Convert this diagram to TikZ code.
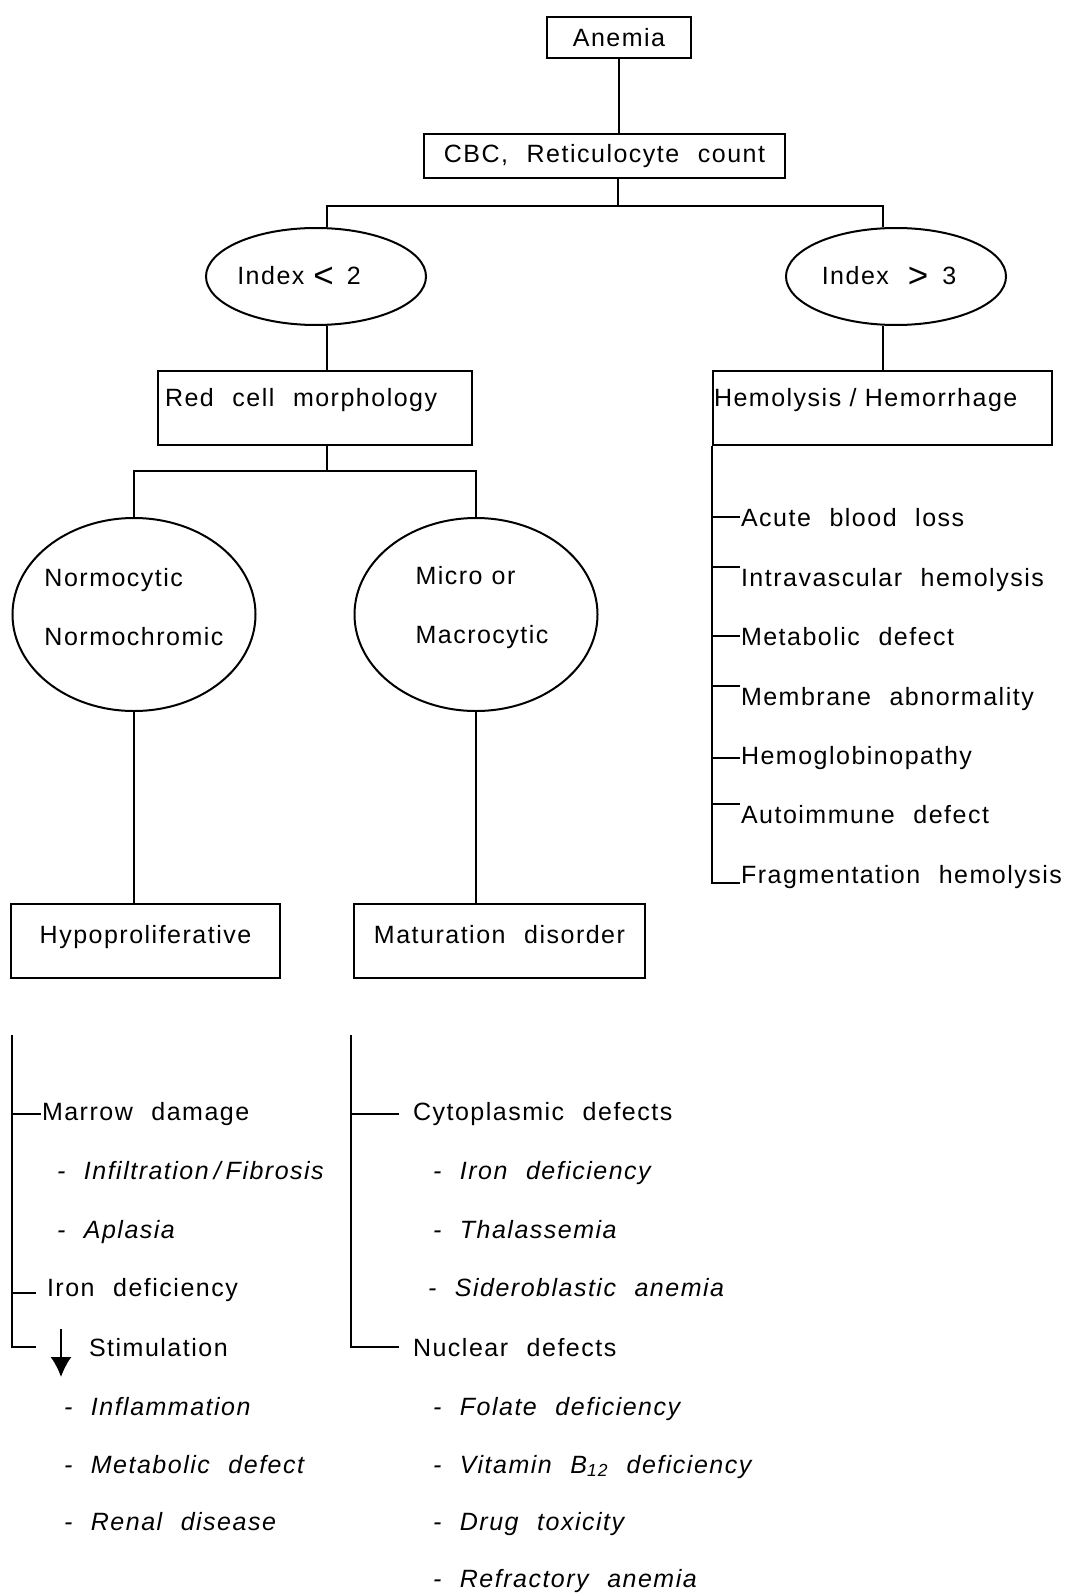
\documentclass[tikz,border=0pt]{standalone}
\usepackage{fontspec}
\setmainfont{Liberation Sans}[LetterSpace=6,WordSpace=2.2]
\usetikzlibrary{shapes.geometric,arrows.meta}
\def\chartfont{\fontsize{25}{30}\selectfont}
\def\bigsign#1{\raisebox{-3pt}{\fontsize{35}{35}\selectfont#1}}
\tikzset{
	box/.style={draw, rectangle, inner sep=0pt},
	oval/.style={draw, ellipse, inner sep=0pt, minimum width=220pt, minimum height=97pt},
	bigoval/.style={draw, ellipse, inner sep=0pt, minimum width=243pt, minimum height=193pt},
	item/.style={anchor=base west, inner sep=0pt},
	sub/.style={item, font=\chartfont\itshape},
}

\begin{document}
\begin{tikzpicture}[x=1pt, y=-1pt, font=\chartfont, line width=2pt]
		%%%%% START %%%%%
		\useasboundingbox (0,0) rectangle (1066,1594);
		
		\node[box, minimum width=144pt, minimum height=41pt] (anemia) at (619,37.5) {Anemia};
		\node[box, minimum width=361pt, minimum height=44pt] (cbc) at (604.5,156) {CBC, Reticulocyte count};
		\coordinate (split1) at (618,206);
		
		\node[oval, label={[xshift=-17pt, font=\chartfont]center:Index\hspace{9pt}\bigsign{<}\hspace{13pt}2}] (lowidx) at (316,276.5) {};
		\node[oval, label={[xshift=-7pt, font=\chartfont]center:Index\hspace{19pt}\bigsign{>}\hspace{14pt}3}] (highidx) at (896,276.5) {};
		
		\node[box, minimum width=314pt, text width=300pt, text height=35pt, text depth=39pt, inner xsep=7pt, align=left] (redcell) at (315,408) {\spaceskip=0pt Red cell morphology};
		\node[box, minimum width=339pt, text width=337pt, text height=35pt, text depth=39pt, inner xsep=1pt, align=left] (hemo) at (882.5,408) {Hemolysis / Hemorrhage};
		\coordinate (split2) at (327,471);
		
		\node[bigoval, label={[yshift=7pt, align=left, font=\chartfont]center:Normocytic\\[29pt]Normochromic}] (normo) at (134,614.5) {};
		\node[bigoval, label={[xshift=6pt, yshift=7pt, align=left, font=\chartfont]center:Micro\hspace{9pt}or\\[29pt]Macrocytic}] (micro) at (476,614.5) {};
		
		\node[box, minimum width=269pt, text height=39pt, text depth=35pt] (hypo) at (145.5,941) {Hypoproliferative};
		\node[box, minimum width=291pt, text height=39pt, text depth=35pt] (mat) at (499.5,941) {Maturation disorder};
		
		\draw (anemia.south) -- (anemia.south |- cbc.north);
		\draw (split1 |- cbc.south) -- (split1);
		\draw ([xshift=11pt]lowidx.north) |- (split1) -| ([xshift=-13pt]highidx.north);
		\draw ([xshift=11pt]lowidx.south) -- ([xshift=11pt]lowidx.south |- redcell.north);
		\draw ([xshift=-13pt]highidx.south) -- ([xshift=-13pt]highidx.south |- hemo.north);
		\draw (split2 |- redcell.south) -- (split2);
		\draw (normo.north) |- (split2) -| (micro.north);
		\draw (normo.south) -- (normo.south |- hypo.north);
		\draw (micro.south) -- (micro.south |- mat.north);
		
		% hemolysis / hemorrhage list
		\node[item] (acute) at (740,526) {Acute blood loss};
		\node[item] (intra) at (740,586) {Intravascular hemolysis};
		\node[item] (metab) at (740,645) {Metabolic defect};
		\node[item] (membr) at (740,705) {Membrane abnormality};
		\node[item] (hbpath) at (740,764) {Hemoglobinopathy};
		\node[item] (autoim) at (740,823) {Autoimmune defect};
		\node[item] (frag) at (740,883) {Fragmentation hemolysis};
		\draw (hemo.south west) |- (frag.base west);
		\foreach \n/\a in {acute/west, intra/north west, metab/west, membr/north west, hbpath/west, autoim/north west}
			\draw (hemo.south west |- \n.\a) -- (\n.\a);
		
		% hypoproliferative list
		\coordinate (ltop) at (12,1035);
		\node[item] (marrow) at (41,1120) {Marrow damage};
		\node[sub] (infil) at (56,1179) {- Infiltration\hspace{5pt}/\hspace{5pt}Fibrosis};
		\node[sub] (aplas) at (56,1238) {- Aplasia};
		\node[item] (ironl) at (46,1296) {Iron deficiency};
		\node[item] (stim) at (88,1356) {Stimulation};
		\node[sub] (inflam) at (63,1415) {- Inflammation};
		\node[sub] (metabl) at (63,1473) {- Metabolic defect};
		\node[sub] (renal) at (63,1530) {- Renal disease};
		\draw (ltop) |- ([xshift=-52pt]stim.west);
		\draw (ltop |- marrow.west) -- (marrow.west);
		\draw (ltop |- ironl.base west) ++(0,-3) -- ++(24,0);
		\coordinate (arrtop) at (61,1329);
		\draw[-{Latex[length=20pt,width=21pt]}] (arrtop) -- ++(0,48);
		
		% maturation disorder list
		\coordinate (mtop) at (351,1035);
		\node[item] (cyto) at (412,1120) {Cytoplasmic defects};
		\node[sub] (ironm) at (432,1179) {- Iron deficiency};
		\node[sub] (thal) at (432,1238) {- Thalassemia};
		\node[sub] (sidero) at (427,1296) {- Sideroblastic anemia};
		\node[item] (nucl) at (412,1356) {Nuclear defects};
		\node[sub] (folate) at (432,1415) {- Folate deficiency};
		\node[sub] (vitb) at (432,1473) {- Vitamin B\textsubscript{12} deficiency};
		\node[sub] (drug) at (432,1530) {- Drug toxicity};
		\node[sub] (refr) at (432,1587) {- Refractory anemia};
		\draw (mtop |- cyto.west) -- ++(48,0);
		\draw (mtop) |- ([xshift=-13pt]nucl.west);
		
		%%%%% END %%%%%
	\end{tikzpicture}
\end{document}
